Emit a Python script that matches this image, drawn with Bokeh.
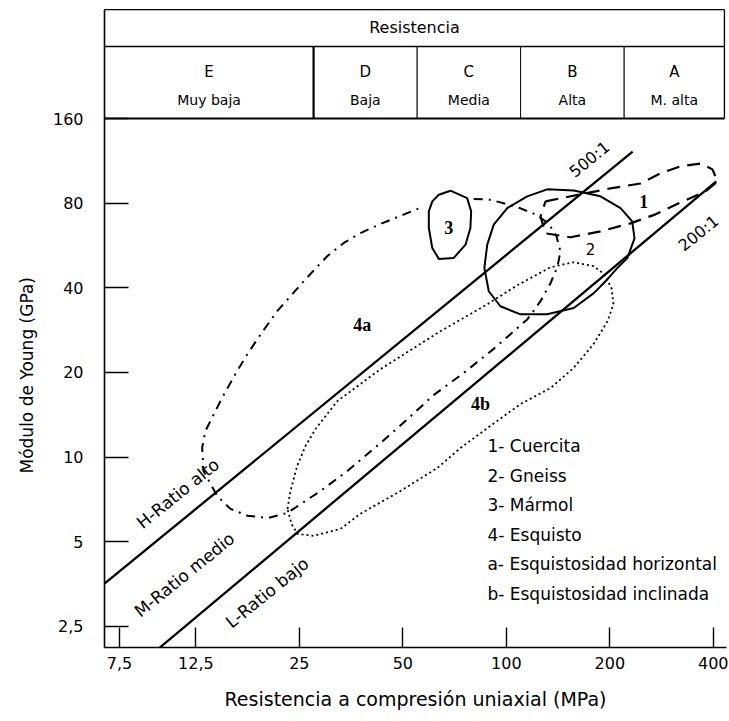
import math
from bokeh.plotting import figure
from bokeh.models import FixedTicker, Range1d, Title
from bokeh.embed import file_html
from bokeh.resources import INLINE
from bokeh.core.properties import value

# ---------------- axes ----------------
x_ticks = [7.5, 12.5, 25, 50, 100, 200, 400]
x_tick_labels = ["7,5", "12,5", "25", "50", "100", "200", "400"]
y_ticks = [2.5, 5, 10, 20, 40, 80, 160]
y_tick_labels = ["2,5", "5", "10", "20", "40", "80", "160"]
x_lo, x_hi = 6.78, 436.8
y_lo, y_hi = 2.105, 397.0
x_title = "Resistencia a compresión uniaxial (MPa)"
y_title = "Módulo de Young (GPa)"

# ---------------- strength classes (header) ----------------
class_bounds = [27.5, 55, 110, 220]
class_letters = ["E", "D", "C", "B", "A"]
class_names = ["Muy baja", "Baja", "Media", "Alta", "M. alta"]
header_title = "Resistencia"
header_bottom, header_mid, header_top = 160, 288.5, 390
header_right = 430.8
header_title_E, header_letter_E, header_name_E = 337, 233.3, 185.5

# ---------------- modulus-ratio lines ----------------
high_ratio_sigma = [6.78, 233.0]
high_ratio_E = [3.55, 122.0]
low_ratio_sigma = [9.8, 408.0]
low_ratio_E = [2.1, 95.6]
ratio_labels = ["500:1", "200:1"]
ratio_label_sigma = [174.5, 362.0]
ratio_label_E = [114.5, 62.5]
zone_labels = ["H-Ratio alto", "M-Ratio medio", "L-Ratio bajo"]
zone_label_sigma = [11.09, 11.58, 20.15]
zone_label_E = [7.43, 3.82, 3.30]

# ---------------- rock fields ----------------
quartz_sigma = [130.0, 164.3, 200.8, 245.6, 280.7, 320.9, 366.9, 397.6, 411.3,
                379.5, 320.9, 271.5, 229.6, 187.8, 153.6, 130.0, 125.7, 130.0]
quartz_E = [81.2, 86.0, 90.3, 94.0, 102.1, 108.1, 110.7, 105.5, 95.6,
            88.1, 80.5, 73.0, 67.8, 63.5, 60.5, 62.5, 71.8, 81.2]

gneiss_sigma = [131.4, 157.0, 187.8, 214.8, 232.3, 235.9, 225.0, 210.1, 194.3, 179.6,
                157.0, 131.4, 109.9, 96.1, 88.9, 86.3, 88.0, 91.9, 100.6, 115.0, 131.4]
gneiss_E = [89.6, 88.8, 84.6, 76.8, 68.9, 60.0, 51.1, 47.0, 42.2, 38.3,
            33.9, 32.2, 32.2, 34.4, 38.9, 47.1, 57.0, 67.1, 76.8, 84.6, 89.6]

marble_sigma = [68.8, 76.9, 79.0, 78.6, 76.1, 70.3, 63.6, 60.9, 59.5, 59.5, 60.9, 63.6, 68.8]
marble_E = [88.6, 83.4, 74.8, 65.3, 57.0, 51.1, 50.7, 55.4, 65.3, 74.8, 81.2, 85.7, 88.6]

schist_a_sigma = [80.4, 88.70, 96.1, 109.9, 121.5, 132.6, 139.9, 143.7, 140.9, 134.4, 125.7,
                  115.2, 102.8, 91.7, 75.1, 61.4, 51.6, 43.05, 34.5, 28.8, 23.09, 20.33,
                  17.66, 15.76, 14.42, 13.16, 13.04, 13.33, 14.09, 14.91, 16.48, 17.63,
                  19.27, 21.55, 23.56, 25.76, 27.86, 30.12, 33.66, 37.64, 43.05, 51.48, 57.52]
schist_a_E = [82.7, 82.54, 80.51, 76.69, 73.01, 67.84, 60.96, 53.96, 47.74, 41.53, 35.85,
              30.95, 27.38, 24.22, 19.91, 16.62, 13.66, 11.23, 8.93, 7.58, 6.34, 6.08,
              6.19, 6.55, 7.28, 8.93, 10.81, 12.39, 14.20, 16.27, 20.24, 23.19,
              27.30, 33.04, 37.35, 42.22, 46.85, 51.80, 57.77, 62.64, 67.46, 73.78, 77.93]

schist_b_sigma = [23.09, 23.56, 24.64, 26.05, 27.86, 32.27, 43.05, 64.31, 88.09, 107.7, 134.4,
                  156.7, 179.3, 192.9, 202.2, 204.9, 196.9, 179.3, 156.7, 134.4, 109.9, 88.09,
                  73.55, 63.04, 49.2, 37.64, 32.93, 27.48, 24.69, 23.72, 23.09]
schist_b_E = [6.55, 7.58, 9.31, 10.96, 12.60, 15.84, 20.56, 28.05, 35.0, 40.87, 47.34,
              49.31, 47.74, 44.69, 39.86, 35.0, 30.44, 25.23, 20.73, 17.61, 15.44, 12.69,
              10.78, 9.16, 7.58, 6.29, 5.56, 5.25, 5.34, 5.79, 6.55]

field_labels = ["1", "3", "4a", "4b"]
field_label_sigma = [251.0, 68.0, 38.1, 84.1]
field_label_E = [81.2, 65.8, 29.6, 15.5]
gneiss_label = ["2"]
gneiss_label_sigma = [175.7]
gneiss_label_E = [54.8]

legend_items = ["1- Cuercita", "2- Gneiss", "3- Mármol", "4- Esquisto",
                "a- Esquistosidad horizontal", "b- Esquistosidad inclinada"]
legend_sigma, legend_E = 88.1, 10.96
legend_row_px = 29.6

FONT = value("DejaVu Sans")

p = figure(width=728, height=720, x_axis_type="log", y_axis_type="log",
           x_range=Range1d(x_lo, x_hi), y_range=Range1d(y_lo, y_hi),
           output_backend="svg", toolbar_location=None,
           min_border_left=104, min_border_right=2, min_border_top=7, min_border_bottom=73)
p.grid.visible = False
p.outline_line_color = None

# axes styling
p.xaxis.ticker = FixedTicker(ticks=x_ticks)
p.xaxis.major_label_overrides = dict(zip(x_ticks, x_tick_labels))
p.yaxis.ticker = FixedTicker(ticks=y_ticks)
p.yaxis.major_label_overrides = dict(zip(y_ticks, y_tick_labels))
p.yaxis.bounds = (y_lo, header_top)
for ax in (p.xaxis[0], p.yaxis[0]):
    ax.axis_line_width = 1.6
    ax.axis_line_color = "black"
    ax.major_tick_line_color = "black"
    ax.major_tick_line_width = 1.4
    ax.major_tick_out = 0
    ax.minor_tick_line_color = None
    ax.major_label_text_font = "DejaVu Sans"
    ax.major_label_text_font_size = "16px"
    ax.major_label_text_color = "black"
    ax.axis_label_text_font = "DejaVu Sans"
    ax.axis_label_text_font_style = "normal"
    ax.axis_label_text_color = "black"
p.xaxis.major_tick_in = 20
p.yaxis.major_tick_in = 24
p.xaxis.major_label_standoff = 9
p.yaxis.major_label_standoff = 21
p.xaxis.axis_label = x_title
p.xaxis.axis_label_text_font_size = "19px"
p.xaxis.axis_label_standoff = 16

# y title as a side title, placed over the data area (below the header)
yt = Title(text=y_title, align="left", offset=174,
           text_font="DejaVu Sans", text_font_size="17px", text_font_style="normal",
           text_color="black")
if "standoff" in yt.properties():
    yt.standoff = 25
p.add_layout(yt, "left")

# ---------------- header table ----------------
p.multi_line(xs=[[x_lo, header_right], [x_lo, header_right], [header_right, header_right]],
             ys=[[header_top, header_top], [header_mid, header_mid], [header_bottom, header_top]],
             line_color="black", line_width=1.3)
p.line(x=[x_lo, header_right], y=[header_bottom, header_bottom], line_color="black", line_width=2)
p.multi_line(xs=[[b, b] for b in class_bounds],
             ys=[[header_bottom, header_mid] for _ in class_bounds],
             line_color="black", line_width=[2.2, 1.2, 1.0, 1.2])
edges = [x_lo] + class_bounds + [header_right]
centers = [math.sqrt(a * b) for a, b in zip(edges[:-1], edges[1:])]
p.text(x=[math.sqrt(x_lo * header_right)], y=[header_title_E], text=[header_title],
       text_font=FONT, text_font_size="16px", text_align="center", text_baseline="middle", text_color="black")
p.text(x=centers, y=[header_letter_E] * 5, text=class_letters,
       text_font=FONT, text_font_size="15px", text_align="center", text_baseline="middle", text_color="black")
p.text(x=centers, y=[header_name_E] * 5, text=class_names,
       text_font=FONT, text_font_size="14px", text_align="center", text_baseline="middle", text_color="black")

# ---------------- ratio lines ----------------
p.line(high_ratio_sigma, high_ratio_E, line_color="black", line_width=2.3)
p.line(low_ratio_sigma, low_ratio_E, line_color="black", line_width=2.3)
ANG = 0.68
p.text(x=ratio_label_sigma, y=ratio_label_E, text=ratio_labels, angle=ANG,
       text_font=FONT, text_font_size="16px", text_align="center", text_baseline="middle", text_color="black")
p.text(x=zone_label_sigma, y=zone_label_E, text=zone_labels, angle=ANG,
       text_font=FONT, text_font_size="17px", text_align="center", text_baseline="middle", text_color="black")

# ---------------- rock fields ----------------
p.line(schist_b_sigma, schist_b_E, line_color="black", line_width=1.8, line_dash="2 3")
p.line(schist_a_sigma, schist_a_E, line_color="black", line_width=2, line_dash="9 6 2 6")
p.line(gneiss_sigma, gneiss_E, line_color="black", line_width=2)
p.line(marble_sigma, marble_E, line_color="black", line_width=2)
p.line(quartz_sigma, quartz_E, line_color="black", line_width=2.2, line_dash="13 8")

p.text(x=field_label_sigma, y=field_label_E, text=field_labels,
       text_font=value("Liberation Serif"), text_font_style="bold", text_font_size="18px",
       text_align="center", text_baseline="middle", text_color="black")
p.text(x=gneiss_label_sigma, y=gneiss_label_E, text=gneiss_label,
       text_font=FONT, text_font_size="15px", text_align="center", text_baseline="middle", text_color="black")

# ---------------- legend text ----------------
n = len(legend_items)
p.text(x=[legend_sigma] * n, y=[legend_E] * n, text=legend_items,
       y_offset=[i * legend_row_px for i in range(n)],
       text_font=FONT, text_font_size="17px", text_align="left", text_baseline="middle", text_color="black")

open("out.html", "w").write(file_html(p, INLINE))
